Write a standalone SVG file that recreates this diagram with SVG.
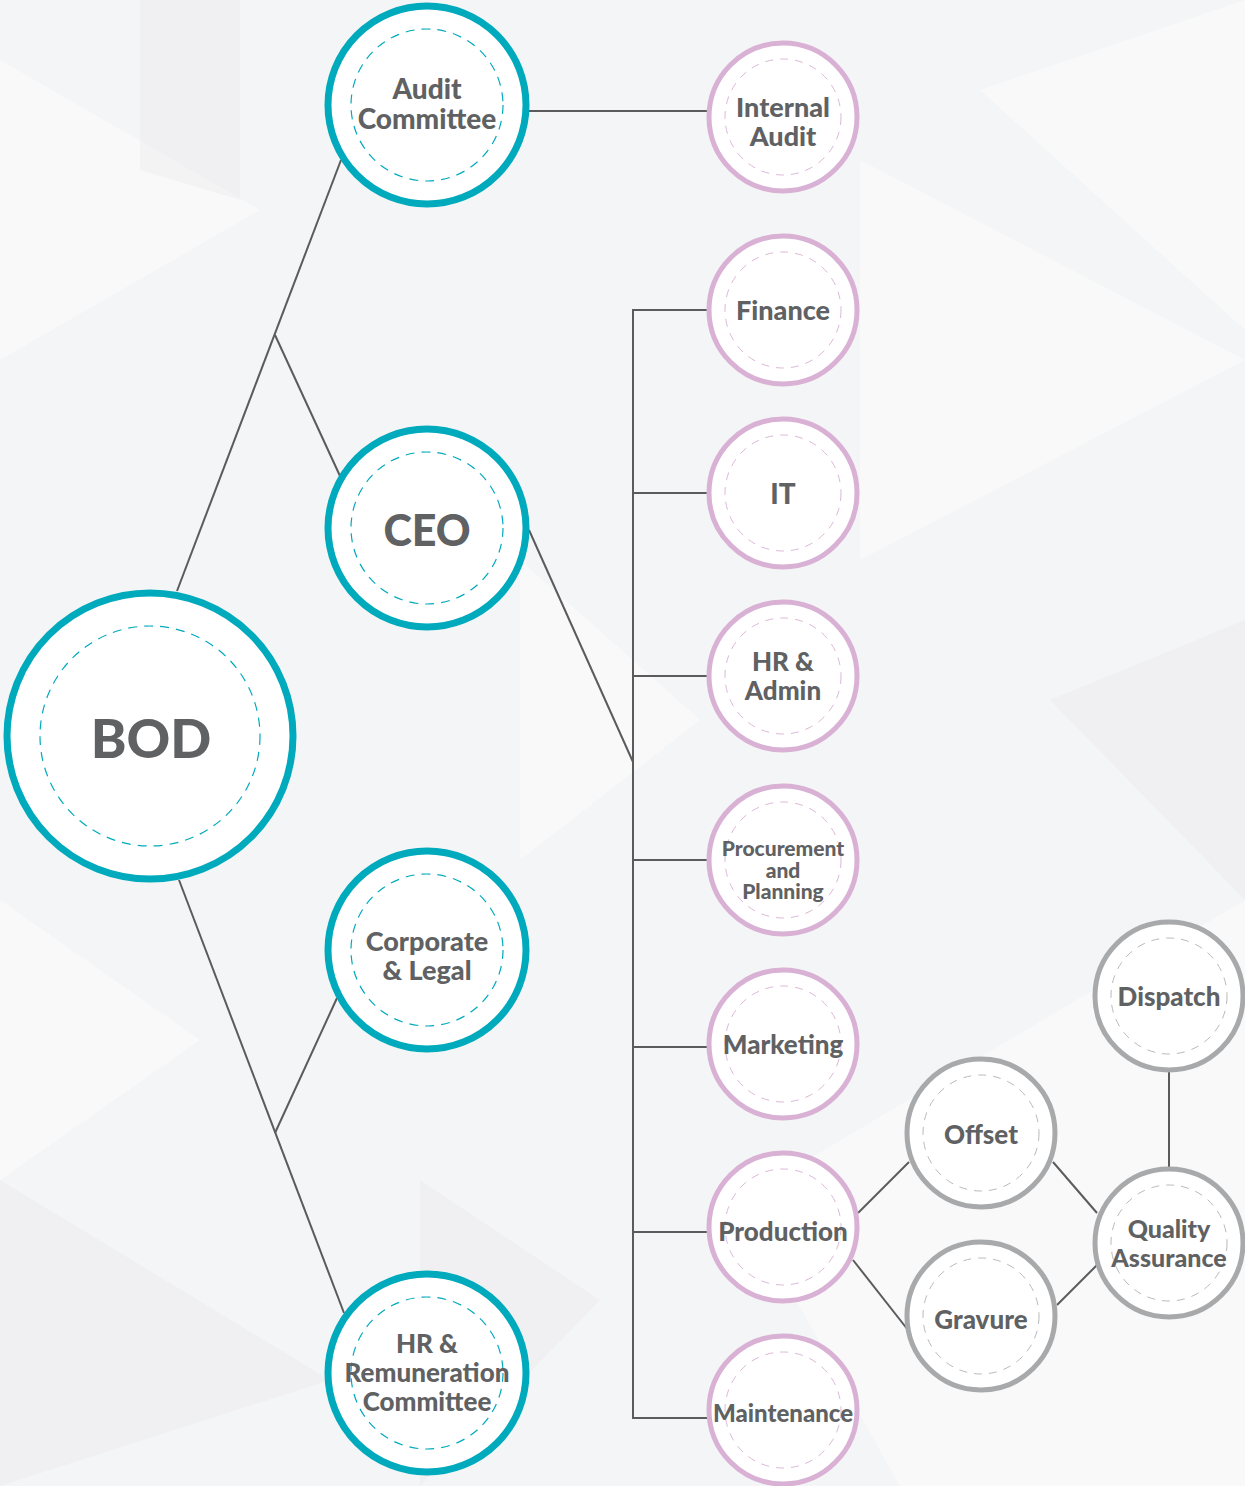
<svg xmlns="http://www.w3.org/2000/svg" width="1245" height="1486" viewBox="0 0 1245 1486">
<style>
.bg{fill:#f4f5f6}
.tri{fill:#ffffff;opacity:0.45}
.tri2{fill:#ebeced;opacity:0.45}
.link{stroke:#5b5b5d;stroke-width:2;fill:none}
.teal{fill:#ffffff;stroke:#00aabd;stroke-width:7}
.tealIn{fill:none;stroke:#00aabd;stroke-width:1.2;stroke-dasharray:9 7}
.pink{fill:#ffffff;stroke:#d9b1d5;stroke-width:5}
.pinkIn{fill:none;stroke:#dcb8d8;stroke-width:1;stroke-dasharray:8 7}
.grey{fill:#ffffff;stroke:#a8a9ab;stroke-width:5}
.greyIn{fill:none;stroke:#b9babc;stroke-width:1;stroke-dasharray:8 7}
text{font-family:Lato,"Liberation Sans",sans-serif;font-weight:900;fill:#606163;text-anchor:middle}
</style>
<rect class="bg" x="0" y="0" width="1245" height="1486"/>
<g id="background">
<polygon class="tri" points="0,60 260,210 0,360"/>
<polygon class="tri2" points="140,0 240,0 240,200 140,170"/>
<polygon class="tri" points="980,90 1245,0 1245,330"/>
<polygon class="tri" points="860,160 1245,360 860,560"/>
<polygon class="tri2" points="1050,700 1245,620 1245,900"/>
<polygon class="tri" points="0,900 200,1040 0,1180"/>
<polygon class="tri2" points="0,1180 330,1380 0,1486"/>
<polygon class="tri" points="740,1200 1245,900 1245,1486 900,1486"/>
<polygon class="tri2" points="420,1180 600,1300 420,1486"/>
<polygon class="tri" points="520,560 700,720 520,860"/>
</g>
<g id="connectors">
<line class="link" x1="177" y1="591" x2="341" y2="160"/>
<line class="link" x1="275" y1="335" x2="340" y2="476"/>
<line class="link" x1="179" y1="880" x2="344" y2="1313"/>
<line class="link" x1="275" y1="1133" x2="337" y2="998"/>
<line class="link" x1="529" y1="111" x2="707" y2="111"/>
<line class="link" x1="529" y1="530" x2="633" y2="762"/>
<polyline class="link" points="707,310 633,310 633,1418 707,1418"/>
<line class="link" x1="633" y1="493" x2="707" y2="493"/>
<line class="link" x1="633" y1="676" x2="707" y2="676"/>
<line class="link" x1="633" y1="860" x2="707" y2="860"/>
<line class="link" x1="633" y1="1047" x2="707" y2="1047"/>
<line class="link" x1="633" y1="1232" x2="707" y2="1232"/>
<line class="link" x1="858" y1="1213" x2="909" y2="1162"/>
<line class="link" x1="853" y1="1260" x2="908" y2="1330"/>
<line class="link" x1="1053" y1="1162" x2="1097" y2="1213"/>
<line class="link" x1="1057" y1="1305" x2="1097" y2="1265"/>
<line class="link" x1="1169" y1="1072" x2="1169" y2="1167"/>
</g>
<g id="bod">
<circle class="teal" cx="150" cy="736" r="143"/>
<circle class="tealIn" cx="150" cy="736" r="110"/>
<text x="151" y="758" font-size="54">BOD</text>
</g>
<g id="audit-committee">
<circle class="teal" cx="427" cy="105" r="99"/>
<circle class="tealIn" cx="427" cy="105" r="76"/>
<text x="427" y="99" font-size="28">Audit</text>
<text x="427" y="129" font-size="28">Committee</text>
</g>
<g id="ceo">
<circle class="teal" cx="427" cy="528" r="99"/>
<circle class="tealIn" cx="427" cy="528" r="76"/>
<text x="427" y="546" font-size="43">CEO</text>
</g>
<g id="corporate-legal">
<circle class="teal" cx="427" cy="950" r="99"/>
<circle class="tealIn" cx="427" cy="950" r="76"/>
<text x="427" y="951" font-size="27">Corporate</text>
<text x="427" y="980" font-size="27">&amp; Legal</text>
</g>
<g id="hr-remuneration">
<circle class="teal" cx="427" cy="1373" r="99"/>
<circle class="tealIn" cx="427" cy="1373" r="76"/>
<text x="427" y="1353" font-size="26">HR &amp;</text>
<text x="427" y="1382" font-size="26">Remuneration</text>
<text x="427" y="1411" font-size="26">Committee</text>
</g>
<g id="internal-audit">
<circle class="pink" cx="783" cy="117" r="74"/>
<circle class="pinkIn" cx="783" cy="117" r="58"/>
<text x="783" y="117" font-size="27">Internal</text>
<text x="783" y="146" font-size="27">Audit</text>
</g>
<g id="finance">
<circle class="pink" cx="783" cy="310" r="74"/>
<circle class="pinkIn" cx="783" cy="310" r="58"/>
<text x="783" y="320" font-size="27">Finance</text>
</g>
<g id="it">
<circle class="pink" cx="783" cy="493" r="74"/>
<circle class="pinkIn" cx="783" cy="493" r="58"/>
<text x="783" y="504" font-size="28">IT</text>
</g>
<g id="hr-admin">
<circle class="pink" cx="783" cy="676" r="74"/>
<circle class="pinkIn" cx="783" cy="676" r="58"/>
<text x="783" y="671" font-size="26">HR &amp;</text>
<text x="783" y="700" font-size="26">Admin</text>
</g>
<g id="procurement">
<circle class="pink" cx="783" cy="860" r="74"/>
<circle class="pinkIn" cx="783" cy="860" r="58"/>
<text x="783" y="856" font-size="21">Procurement</text>
<text x="783" y="878" font-size="21">and</text>
<text x="783" y="899" font-size="21">Planning</text>
</g>
<g id="marketing">
<circle class="pink" cx="783" cy="1044" r="74"/>
<circle class="pinkIn" cx="783" cy="1044" r="58"/>
<text x="783" y="1054" font-size="26">Marketing</text>
</g>
<g id="production">
<circle class="pink" cx="783" cy="1227" r="74"/>
<circle class="pinkIn" cx="783" cy="1227" r="58"/>
<text x="783" y="1241" font-size="26">Production</text>
</g>
<g id="maintenance">
<circle class="pink" cx="783" cy="1410" r="74"/>
<circle class="pinkIn" cx="783" cy="1410" r="58"/>
<text x="783" y="1422" font-size="24">Maintenance</text>
</g>
<g id="offset">
<circle class="grey" cx="981" cy="1133" r="74"/>
<circle class="greyIn" cx="981" cy="1133" r="58"/>
<text x="981" y="1144" font-size="26">Offset</text>
</g>
<g id="gravure">
<circle class="grey" cx="981" cy="1316" r="74"/>
<circle class="greyIn" cx="981" cy="1316" r="58"/>
<text x="981" y="1329" font-size="26">Gravure</text>
</g>
<g id="quality-assurance">
<circle class="grey" cx="1169" cy="1243" r="74"/>
<circle class="greyIn" cx="1169" cy="1243" r="58"/>
<text x="1169" y="1238" font-size="25">Quality</text>
<text x="1169" y="1267" font-size="25">Assurance</text>
</g>
<g id="dispatch">
<circle class="grey" cx="1169" cy="996" r="74"/>
<circle class="greyIn" cx="1169" cy="996" r="58"/>
<text x="1169" y="1006" font-size="26">Dispatch</text>
</g>
</svg>
